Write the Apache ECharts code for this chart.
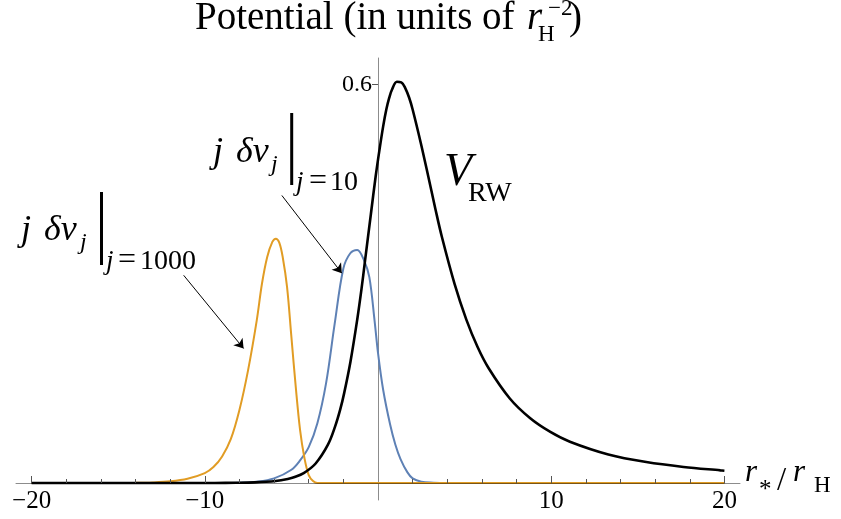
<!DOCTYPE html>
<html>
<head>
<meta charset="utf-8">
<script src="https://cdn.jsdelivr.net/npm/echarts@6/dist/echarts.min.js"></script>
<style>
html, body { margin: 0; padding: 0; background: #fff; }
#main { width: 841px; height: 519px; }
</style>
</head>
<body>
<div id="main"></div>
<script>
// V_RW (x = r*/rH, y = potential)
var vrwX = [-20, -9.41, -8.21, -7.11, -5.91, -5.21, -4.81, -4.29, -3.60, -2.89, -2.48, -2.18, -1.95, -1.59, -1.20, -0.95, -0.75, -0.41, -0.14, 0.10, 0.30, 0.48, 0.65, 0.81, 1.09, 1.34, 1.58, 1.80, 2.00, 2.47, 2.91, 3.31, 3.69, 4.42, 5.10, 5.75, 6.39, 7.61, 8.79, 9.95, 11.08, 13.30, 15.49, 17.64, 19.77, 20];
var vrwY = [0, 0.0001, 0.0003, 0.0009, 0.003, 0.006, 0.0089, 0.0149, 0.0294, 0.0577, 0.0848, 0.1108, 0.1357, 0.1826, 0.2459, 0.2926, 0.3345, 0.4051, 0.4608, 0.5042, 0.5374, 0.5623, 0.5802, 0.5926, 0.6042, 0.6034, 0.5944, 0.5801, 0.5625, 0.5121, 0.4608, 0.4131, 0.3704, 0.2999, 0.2461, 0.2048, 0.1728, 0.1273, 0.0975, 0.0769, 0.0622, 0.0430, 0.0315, 0.0241, 0.0190, 0.0185];

// j dv_j at j = 10
var dv10X = [-20, -9, -8, -7, -6, -5, -4.5, -4, -3.5, -3, -2.5, -2, -1.6, -1.2, -0.8, -0.5, -0.2, 0, 0.3, 0.7, 1, 1.3, 1.7, 2, 2.5, 3.2, 4, 20];
var dv10Y = [0, 0.0001, 0.0005, 0.002, 0.007, 0.02, 0.034, 0.054, 0.09, 0.15, 0.24, 0.323, 0.346, 0.351, 0.335, 0.31, 0.245, 0.196, 0.14, 0.088, 0.058, 0.036, 0.016, 0.007, 0.002, 0.0005, 0, 0];

// j dv_j at j = 1000
var dv1000X = [-20, -15, -14, -13, -12, -11, -10, -9.5, -9, -8.5, -8, -7.5, -7, -6.7, -6.4, -6.1, -5.9, -5.7, -5.5, -5.25, -5, -4.75, -4.5, -4.25, -4, -3.75, -3.5, 20];
var dv1000Y = [0, 0.0001, 0.0002, 0.0008, 0.0025, 0.0065, 0.015, 0.024, 0.04, 0.066, 0.11, 0.17, 0.245, 0.3, 0.34, 0.363, 0.368, 0.362, 0.34, 0.295, 0.22, 0.145, 0.08, 0.038, 0.012, 0.003, 0, 0];

var xMinorTicks = [-20, -18, -16, -14, -12, -10, -8, -6, -4, -2, 2, 4, 6, 8, 10, 12, 14, 16, 18, 20];
var xMajorTicks = [-20, -10, 10, 20];
var xLabels = [-20, -10, 10, 20];
var yLabels = [0.6];

// arrows from the labels to the curves, [start, end] in data units
var arrow1000 = [[-11.22, 0.3128], [-7.76, 0.2026]];
var arrow10 = [[-5.55, 0.433], [-2.09, 0.316]];

function pairs(xs, ys) {
	return xs.map(function (x, i) { return [x, ys[i]]; });
}

var serif = 'Liberation Serif';
var axisGray = 'rgba(0,0,0,0.45)';

// text piece placed by its baseline
function tx(s, x, base, size, italic) {
	return {
		type: 'text', x: x, y: base - 0.3375 * size, z: 100,
		style: {
			text: s, fontFamily: serif, fontSize: size,
			fontStyle: italic ? 'italic' : 'normal',
			fill: '#000', align: 'left', verticalAlign: 'middle'
		}
	};
}
function bar(x, y1, y2) {
	return { type: 'line', z: 100, shape: { x1: x, y1: y1, x2: x, y2: y2 }, style: { stroke: '#000', lineWidth: 3 } };
}
function hiddenAxis(gi, mn, mx) {
	return { type: 'value', gridIndex: gi, min: mn, max: mx, show: false };
}

var chart = echarts.init(document.getElementById('main'));

var option = {
	animation: false,
	grid: [
		// plot area: bottom edge is y = 0
		{ left: 16, right: 101, top: 58, bottom: 36, outerBoundsMode: 'none', containLabel: false },
		// thin grid holding the vertical axis at x = 0
		{ left: 378, width: 1, top: 58, bottom: 19, outerBoundsMode: 'none', containLabel: false },
		// copy of the plot area for the longer major ticks
		{ left: 16, right: 101, top: 58, bottom: 36, outerBoundsMode: 'none', containLabel: false }
	],
	xAxis: [{
		type: 'value', gridIndex: 0, min: -20.9, max: 20.9, z: 10,
		axisLine: { onZero: false, lineStyle: { color: axisGray, width: 1 } },
		axisTick: { show: true, inside: true, length: 4, customValues: xMinorTicks, lineStyle: { color: '#555' } },
		axisLabel: {
			customValues: xLabels, margin: 6, fontFamily: serif, fontSize: 25, color: '#000',
			formatter: function (v) { return v < 0 ? '\u2212' + Math.abs(v) : String(v); }
		},
		splitLine: { show: false }
	},
	hiddenAxis(1, 0, 1),
	{
		type: 'value', gridIndex: 2, min: -20.9, max: 20.9, z: 10,
		axisLine: { show: false, onZero: false },
		axisTick: { show: true, inside: true, length: 7, customValues: xMajorTicks, lineStyle: { color: '#555' } },
		axisLabel: { show: false },
		splitLine: { show: false }
	}],
	yAxis: [
		hiddenAxis(0, 0, 0.64),
		{
			type: 'value', gridIndex: 1, position: 'left', min: -0.026, max: 0.64,
			axisLine: { show: true, onZero: false, lineStyle: { color: axisGray, width: 1 } },
			axisTick: { show: true, length: 6, customValues: yLabels, lineStyle: { color: '#555' } },
			axisLabel: {
				customValues: yLabels, margin: 6, fontFamily: serif, fontSize: 24, color: '#000',
				formatter: function (v) { return String(v); }
			},
			splitLine: { show: false }
		},
		hiddenAxis(2, 0, 0.64)
	],
	series: [{
		name: 'j=10', type: 'line', xAxisIndex: 0, yAxisIndex: 0, clip: false,
		data: pairs(dv10X, dv10Y), symbol: 'none', smooth: 0.35, z: 2,
		lineStyle: { color: '#5e81b5', width: 2 }
	}, {
		name: 'j=1000', type: 'line', xAxisIndex: 0, yAxisIndex: 0, clip: false,
		data: pairs(dv1000X, dv1000Y), symbol: 'none', smooth: 0.35, z: 3,
		lineStyle: { color: '#e19c24', width: 2 }
	}, {
		name: 'V_RW', type: 'line', xAxisIndex: 0, yAxisIndex: 0, clip: false,
		data: pairs(vrwX, vrwY), symbol: 'none', smooth: 0.35, z: 4,
		lineStyle: { color: '#000', width: 2.6 },
		markLine: {
			silent: true, symbol: ['none', 'arrow'], symbolSize: 9,
			lineStyle: { color: '#000', width: 1, type: 'solid' },
			label: { show: false },
			data: [
				[{ coord: arrow1000[0] }, { coord: arrow1000[1] }],
				[{ coord: arrow10[0] }, { coord: arrow10[1] }]
			]
		}
	}],
	graphic: [
		// title
		tx('Potential (in units of', 195, 32, 39),
		tx('r', 527, 32, 39, true),
		tx('H', 538, 43, 23),
		tx('\u22122', 548, 17, 23),
		tx(')', 569, 32, 39),
		// j dv_j |_(j=1000)
		tx('j', 21, 243, 36, true),
		tx('\u03b4v', 44, 243, 36, true),
		tx('j', 80, 251, 24, true),
		bar(101.5, 192, 265),
		tx('j', 106, 271, 27, true),
		tx('=', 118, 271, 32),
		tx('1000', 140, 271, 28),
		// j dv_j |_(j=10)
		tx('j', 213, 165, 36, true),
		tx('\u03b4v', 236, 165, 36, true),
		tx('j', 271, 173, 24, true),
		bar(291.7, 113, 185),
		tx('j', 296, 192, 27, true),
		tx('=', 309, 192, 32),
		tx('10', 330, 192, 28),
		// V_RW
		tx('V', 444, 188, 46, true),
		tx('RW', 468, 203, 28),
		// axis name r*/rH
		tx('r', 745, 483, 31, true),
		tx('*', 759, 499, 25),
		tx('/', 777, 492, 33),
		tx('r', 793, 483, 31, true),
		tx('H', 814, 494, 23)
	]
};

chart.setOption(option);
</script>
</body>
</html>
